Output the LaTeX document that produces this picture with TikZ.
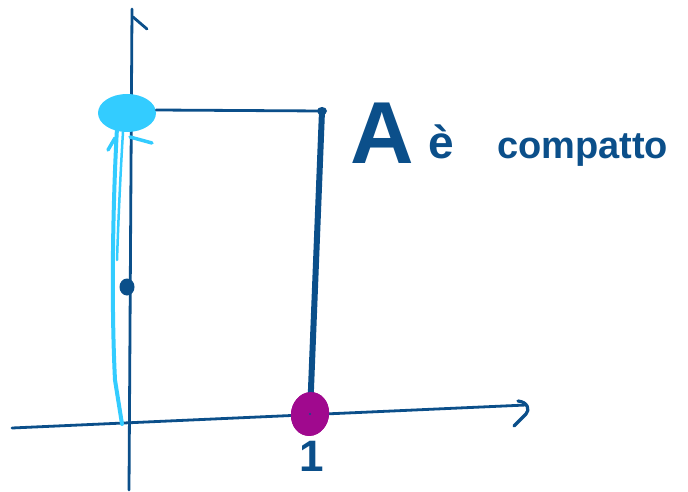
\documentclass[tikz,border=0pt]{standalone}
\usepackage{fontspec}
\setmainfont{Liberation Sans}
\usetikzlibrary{shapes.geometric}
\definecolor{dkblue}{HTML}{0B4F8A}
\definecolor{skyc}{HTML}{33CCFF}
\definecolor{purp}{HTML}{A0098E}
\begin{document}
\begin{tikzpicture}[x=1pt,y=-1pt,
  pen/.style={draw=dkblue, line width=2.8pt, line cap=round, line join=round},
  thickpen/.style={draw=dkblue, line width=6pt, line cap=round},
  cyanpen/.style={draw=skyc, line width=3.5pt, line cap=round, line join=round},
  lbl/.style={text=dkblue, inner sep=0pt, font=\bfseries}]
\useasboundingbox[fill=white] (0,0) rectangle (688,492);
% axes
\coordinate (ytop) at (132,9);
\coordinate (ybot) at (129,490);
\coordinate (xleft) at (12,428);
\coordinate (xright) at (526,405);
\draw[pen] (ybot) -- (ytop);
\draw[pen] (133,17) -- (147,29);
\draw[pen] (xleft) -- (xright);
\draw[pen, line width=3.2pt] (518,401) .. controls (528,402) and (530,410) .. (526,414) -- (514,426);
% cyan set
\node[ellipse, fill=skyc, minimum width=58pt, minimum height=38pt, inner sep=0pt] (blob) at (127,113) {};
\draw[cyanpen, line width=4pt] (117,128) .. controls (113,200) and (111,300) .. (115,380) -- (122,424);
\draw[cyanpen, line width=2.5pt] (123,132) .. controls (120,180) and (118,230) .. (117,260);
\draw[cyanpen] (115,138) -- (108,150);
\draw[cyanpen] (130,137) -- (152,143);
% dark point on y axis
\node[ellipse, fill=dkblue, minimum width=15pt, minimum height=17pt, inner sep=0pt] (pt) at (127,287) {};
% rectangle sides
\coordinate (corner) at (322,111);
\draw[pen] (blob.east) ++(0,-3) -- (corner);
\fill[dkblue] (corner) ellipse (5pt and 4pt);
\node[ellipse, fill=purp, minimum width=38pt, minimum height=44pt, inner sep=0pt, rotate=-10] (pm) at (310,414) {};
\draw[thickpen] (corner) -- (pm.center);
\node[ellipse, fill=purp, minimum width=38pt, minimum height=44pt, inner sep=0pt, rotate=-10] at (310,414) {};
\fill[dkblue] (pm.center) circle (1.2pt);
\node[lbl, font=\fontsize{44}{44}\selectfont\bfseries] (one) at (312,456) {1};
% text
\node[lbl, anchor=base west, font=\fontsize{88}{88}\selectfont\bfseries] (tA) at (350,164) {A};
\node[lbl, anchor=base west, font=\fontsize{46}{46}\selectfont\bfseries] (te) at (428,158) {è};
\node[lbl, anchor=base west, font=\fontsize{38}{38}\selectfont\bfseries] (tc) at (497,158) {compatto};
\end{tikzpicture}
\end{document}
